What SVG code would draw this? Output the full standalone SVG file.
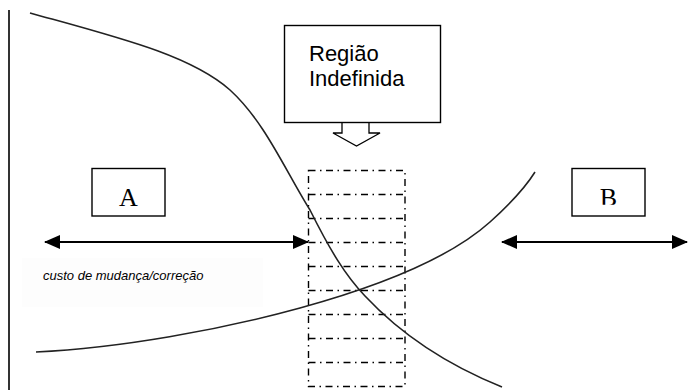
<svg xmlns="http://www.w3.org/2000/svg" width="688" height="390" viewBox="0 0 688 390">
<style>
.box{fill:#fff;stroke:#000;stroke-width:1.4}
.curve{fill:none;stroke:#222;stroke-width:1.6}
.grid{fill:none;stroke:#000;stroke-width:1.4;stroke-dasharray:7 4.5 1.5 4.5}
.arr{stroke:#000;stroke-width:2}
.sans{font-family:"Liberation Sans",Arial,sans-serif}
.serif{font-family:"Liberation Serif","Times New Roman",serif}
</style>
<defs>
<marker id="ah" markerWidth="16" markerHeight="14" refX="15" refY="7" orient="auto-start-reverse" markerUnits="userSpaceOnUse">
<path d="M0,0 L16,7 L0,14 Z" fill="#000"/>
</marker>
<clipPath id="bclip"><rect x="572" y="168" width="74" height="36.8"/></clipPath>
</defs>
<rect width="688" height="390" fill="#fff"/>
<rect x="22" y="258" width="241" height="49" fill="#fdfdfd"/>
<line x1="9" y1="10" x2="9" y2="390" stroke="#333" stroke-width="2"/>

<g id="grid">
<rect class="grid" x="308.5" y="170.5" width="96.5" height="216"/>
<path class="grid" d="M308.5,194.5H405M308.5,218.5H405M308.5,242.5H405M308.5,266.5H405M308.5,290.5H405M308.5,314.5H405M308.5,338.5H405M308.5,362.5H405"/>
</g>

<g id="connectors">
<path class="curve" d="M30,13 C120,38 190,55 230,90 C265,122 285,170 310,210 C330,250 345,275 365,296 C395,328 440,362 502,387"/>
<path class="curve" d="M36,352 C120,348 220,330 300,308 C380,286 450,258 490,222 C510,204 525,188 535,172"/>
<line class="arr" x1="45" y1="242" x2="308" y2="242" marker-start="url(#ah)" marker-end="url(#ah)"/>
<line class="arr" x1="502" y1="242" x2="687" y2="242" marker-start="url(#ah)" marker-end="url(#ah)"/>
<polygon points="342,122 342,133 333,133 356.5,146 380,133 369,133 369,122" fill="#fff" stroke="#000" stroke-width="1.3"/>
</g>

<g id="regiao">
<rect class="box" x="284.5" y="25.5" width="156" height="97"/>
<text class="sans" x="309" y="61" font-size="22">Região</text>
<text class="sans" x="309" y="86" font-size="22">Indefinida</text>
</g>

<g id="a">
<rect class="box" x="92" y="168.5" width="73" height="47.5"/>
<text class="serif" x="128.5" y="206" font-size="26" text-anchor="middle">A</text>
</g>

<g id="b">
<rect class="box" x="572" y="168.5" width="73" height="47.5"/>
<text class="serif" x="608.5" y="206" font-size="26" text-anchor="middle" clip-path="url(#bclip)">B</text>
</g>

<g id="label">
<text class="sans" x="43" y="280" font-size="13" font-style="italic">custo de mudança/correção</text>
</g>
</svg>
